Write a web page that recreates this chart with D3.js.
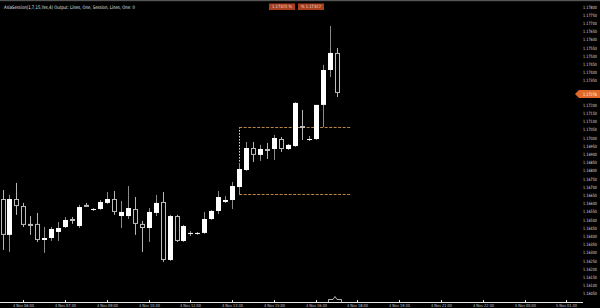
<!DOCTYPE html>
<html><head><meta charset="utf-8">
<script src="https://cdn.jsdelivr.net/npm/d3@7"></script>
<style>html,body{margin:0;padding:0;background:#000;overflow:hidden}svg{display:block}text{font-family:"DejaVu Sans",sans-serif}</style>
</head><body>
<svg id="c" width="600" height="308"></svg>
<script>
// ---- data ----
const opens  = [1.16629,1.16410,1.16629,1.16586,1.16477,1.16477,1.16379,1.16391,1.16428,1.16458,1.16507,1.16464,1.16593,1.16562,1.16568,1.16605,1.16629,1.16525,1.16525,1.16568,1.16477,1.16452,1.16544,1.16611,1.16257,1.16525,1.16373,1.16416,1.16416,1.16422,1.16507,1.16556,1.16611,1.16623,1.16702,1.16806,1.16940,1.16898,1.16934,1.16934,1.16995,1.16934,1.16952,1.17074,1.16995,1.16995,1.17203,1.17416,1.17520];
const highs  = [1.16684,1.16654,1.16727,1.16605,1.16525,1.16544,1.16458,1.16458,1.16489,1.16519,1.16519,1.16593,1.16605,1.16574,1.16623,1.16672,1.16678,1.16617,1.16708,1.16641,1.16495,1.16574,1.16654,1.16672,1.16532,1.16532,1.16471,1.16434,1.16428,1.16550,1.16562,1.16678,1.16647,1.16733,1.16849,1.16977,1.16977,1.16959,1.16971,1.17020,1.17007,1.16965,1.17220,1.17172,1.17013,1.17203,1.17447,1.17684,1.17550];
const lows   = [1.16318,1.16306,1.16532,1.16458,1.16410,1.16367,1.16300,1.16373,1.16373,1.16452,1.16477,1.16452,1.16580,1.16556,1.16562,1.16599,1.16532,1.16452,1.16507,1.16410,1.16306,1.16367,1.16525,1.16245,1.16251,1.16367,1.16367,1.16403,1.16410,1.16416,1.16501,1.16538,1.16605,1.16568,1.16654,1.16800,1.16855,1.16861,1.16873,1.16867,1.16916,1.16928,1.16947,1.16989,1.16983,1.16989,1.17068,1.17373,1.17251];
const closes = [1.16410,1.16629,1.16586,1.16471,1.16471,1.16379,1.16391,1.16446,1.16452,1.16501,1.16495,1.16580,1.16586,1.16568,1.16611,1.16629,1.16550,1.16550,1.16574,1.16477,1.16452,1.16550,1.16605,1.16257,1.16525,1.16373,1.16464,1.16422,1.16422,1.16507,1.16556,1.16641,1.16623,1.16708,1.16812,1.16940,1.16898,1.16934,1.16928,1.17001,1.16934,1.16959,1.17215,1.17068,1.16995,1.17203,1.17416,1.17520,1.17276];
const priceTicks = [1.1780,1.1775,1.1770,1.1765,1.1760,1.1755,1.1750,1.1745,1.1740,1.1735,1.1730,1.1725,1.1720,1.1715,1.1710,1.1705,1.1700,1.1695,1.1690,1.1685,1.1680,1.1675,1.1670,1.1665,1.1660,1.1655,1.1650,1.1645,1.1640,1.1635,1.1630,1.1625,1.1620,1.1615,1.1610,1.1605];
const timeTickIdx = [3,9,15,21,27,33,39,45,51,57,63,69,75,81];
const timeTickLabels = ["4 Nov 06:00","4 Nov 07:30","4 Nov 09:00","4 Nov 10:30","4 Nov 12:00","4 Nov 13:30","4 Nov 15:00","4 Nov 16:30","4 Nov 18:00","4 Nov 19:30","4 Nov 21:00","4 Nov 22:30","5 Nov 00:00","5 Nov 01:30"];
const rangeHigh = 1.17068, rangeLow = 1.16660, rangeStartIdx = 34, rangeEndIdx = 50;
const headerText = "AsiaSession(1,7,15,Yes,4) Output: Lines, One, Session, Lines, One: 0";
const badgeTexts = ["1.17325 %", "% 1.17322"];

// ---- scales ----
const svg = d3.select("#c");
const y = d3.scaleLinear().domain([1.1605, 1.1780]).range([293.9, 7.05]);
const x = d3.scaleLinear().domain([0, 81]).range([2.5, 566.3]);
const bw = 5;

svg.append("rect").attr("width",600).attr("height",308).attr("fill","#000");
svg.append("rect").attr("x",0).attr("y",0).attr("width",600).attr("height",1.2).attr("fill","#555");

// range box lines
const rx0 = x(rangeStartIdx), rx1 = x(rangeEndIdx);
svg.append("line").attr("x1",Math.round(rx0)+0.5).attr("x2",Math.round(rx0)+0.5)
  .attr("y1",y(rangeHigh)).attr("y2",y(rangeLow)).attr("stroke","#ddd").attr("stroke-width",1).attr("stroke-dasharray","1.5,1.5");
[rangeHigh, rangeLow].forEach(v=>{
  svg.append("line").attr("x1",rx0).attr("x2",rx1).attr("y1",Math.round(y(v))+0.5).attr("y2",Math.round(y(v))+0.5)
    .attr("stroke","#b98548").attr("stroke-width",1).attr("stroke-dasharray","3,1.5");
});

// candles
const data = opens.map((o,i)=>({i,o,h:highs[i],l:lows[i],c:closes[i]}));
const g = svg.append("g");
g.selectAll("line.w").data(data).enter().append("line")
  .attr("x1",d=>Math.round(x(d.i))+0.5).attr("x2",d=>Math.round(x(d.i))+0.5)
  .attr("y1",d=>y(d.h)).attr("y2",d=>y(d.l))
  .attr("stroke",d=>d.c>=d.o?"#8a8a8a":"#b5b5b5").attr("stroke-width",1);
g.selectAll("rect.b").data(data).enter().append("rect")
  .attr("x",d=>Math.round(x(d.i))-2+ (d.c>=d.o?0:0.5))
  .attr("width",d=>d.c>=d.o?bw:bw-1)
  .attr("y",d=>y(Math.max(d.o,d.c)) + (d.c>=d.o?0:0.5))
  .attr("height",d=>Math.max(1,Math.abs(y(d.o)-y(d.c)) - (d.c>=d.o?0:1)))
  .attr("fill",d=>d.c>=d.o?"#fff":"#000")
  .attr("stroke",d=>d.c>=d.o?"none":"#bdbdbd").attr("stroke-width",1);

// price axis labels (hide the one under the current-price badge)
const last = closes[closes.length-1];
const cy = y(last)+1;
const ax = svg.append("g");
ax.selectAll("text").data(priceTicks.filter(t=>Math.abs(y(t)-cy)>5)).enter().append("text")
  .attr("x",583).attr("y",d=>y(d)+1.5).attr("font-size",4.4).attr("fill","#dcdcdc")
  .attr("textLength",14).attr("lengthAdjust","spacingAndGlyphs")
  .text(d=>d.toFixed(5));

// current price badge
svg.append("path").attr("d",`M575,${cy} L579,${cy-4} L600,${cy-4} L600,${cy+4} L579,${cy+4} Z`).attr("fill","#e0692a");
svg.append("text").attr("x",583).attr("y",cy+1.6).attr("font-size",4.4).attr("fill","#fff")
  .attr("textLength",14).attr("lengthAdjust","spacingAndGlyphs").text(last.toFixed(5));

// time axis
svg.append("line").attr("x1",0).attr("x2",583).attr("y1",302.5).attr("y2",302.5).attr("stroke","#e6e6e6").attr("stroke-width",1);
const tg = svg.append("g");
timeTickIdx.forEach((ti,k)=>{
  const tx = Math.round(x(ti))+0.5;
  tg.append("line").attr("x1",tx).attr("x2",tx).attr("y1",300).attr("y2",302).attr("stroke","#e6e6e6");
  tg.append("text").attr("x",tx).attr("y",307.3).attr("text-anchor","middle").attr("font-size",4.2).attr("fill","#c8c8d8")
    .attr("textLength",21).attr("lengthAdjust","spacingAndGlyphs").text(timeTickLabels[k]);
});
// scroll marker
svg.append("path").attr("d","M328.5,302.5 L328.5,299.5 L333,299.5 L335,296.5 L337,299.5 L341.5,299.5 L341.5,302.5")
  .attr("fill","none").attr("stroke","#ddd").attr("stroke-width",0.8);

// header
svg.append("text").attr("x",4).attr("y",8.8).attr("font-size",4.8).attr("fill","#e0e0e0")
  .attr("textLength",131).attr("lengthAdjust","spacingAndGlyphs").text(headerText);
[[269,badgeTexts[0]],[298,badgeTexts[1]]].forEach(([bx,t])=>{
  svg.append("rect").attr("x",bx).attr("y",3.5).attr("width",26).attr("height",6.5).attr("fill","#a8401f");
  svg.append("text").attr("x",bx+13).attr("y",8.4).attr("text-anchor","middle").attr("font-size",4.4).attr("fill","#f0d8cc")
    .attr("textLength",20).attr("lengthAdjust","spacingAndGlyphs").text(t);
});
</script>
</body></html>
